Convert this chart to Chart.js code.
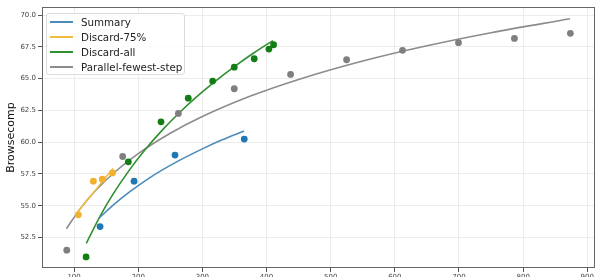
<!DOCTYPE html>
<html lang="en">
<head>
  <meta charset="utf-8">
  <title>Browsecomp scaling</title>
  <style type="text/css">
    /* page is exactly the screenshot size, chart runs a little past the bottom */
    html, body {
      margin: 0;
      padding: 0;
      background: #fff;
      overflow: hidden;
    }
    .wrap {
      position: relative;
      width: 600px;
      height: 277px;
      overflow: hidden;
    }
    .chart {
      position: absolute;
      left: 0;
      top: 0;
      width: 600px;
      height: 290px;
    }
    .legend {
      position: absolute;
      left: 46px;
      top: 13px;
      width: 139px;
      height: 62px;
      border: 1px solid #dcdcdc;
      border-radius: 3px;
      background: rgba(255, 255, 255, 0.85);
      font-family: "DejaVu Sans", sans-serif;
      font-size: 10.3px;
      color: #222;
      box-sizing: border-box;
    }
    .legend .row {
      position: absolute;
      left: 0;
      height: 14px;
      line-height: 14px;
      white-space: nowrap;
    }
    .legend .swatch {
      position: absolute;
      left: 3px;
      top: 6px;
      width: 23px;
      height: 2px;
    }
    .legend .label {
      position: absolute;
      left: 34px;
      top: 0;
    }
  </style>
</head>
<body>
  <div class="wrap">
    <div class="chart">
      <canvas id="scaleChart"></canvas>
    </div>
    <!-- legend sits inside the plot, top left -->
    <div class="legend" id="legend"></div>
  </div>

  <script src="https://cdn.jsdelivr.net/npm/chart.js"></script>

  <script>
    // ---- data ----
    const seriesNames = ["Summary", "Discard-75%", "Discard-all", "Parallel-fewest-step"];

    // Summary
    const summaryX = [140.5, 193.5, 257.3, 365.3];
    const summaryY = [53.36, 56.93, 58.98, 60.24];
    const summaryFitX = [140, 160, 187, 220, 257, 300, 330, 365];
    const summaryFitY = [54.07, 55.0, 56.1, 57.27, 58.37, 59.47, 60.16, 60.87];

    // Discard-75%
    const d75X = [106.7, 130, 144, 159.7];
    const d75Y = [54.28, 56.93, 57.09, 57.58];
    const d75FitX = [104, 118, 133, 147, 161];
    const d75FitY = [54.4, 55.3, 56.2, 57.1, 57.93];

    // Discard-all
    const dallX = [118.7, 184.6, 235.5, 278, 316, 349.7, 380.8, 403.7, 411];
    const dallY = [50.97, 58.45, 61.6, 63.46, 64.8, 65.9, 66.56, 67.32, 67.66];
    const dallFitX = [119, 140, 160, 185, 210, 240, 267, 290, 316, 352, 380, 410];
    const dallFitY = [52.03, 54.13, 55.85, 57.72, 59.36, 61.08, 62.45, 63.52, 64.63, 66.02, 67.01, 67.99];

    // Parallel-fewest-step
    const parX = [88.6, 175.8, 262.6, 349.7, 437.5, 524.8, 612, 699.2, 786.4, 873.6];
    const parY = [51.5, 58.87, 62.26, 64.2, 65.33, 66.48, 67.22, 67.82, 68.16, 68.56];
    const parFitX = [88, 110, 135, 165, 200, 250, 300, 375, 450, 550, 650, 750, 873];
    const parFitY = [53.19, 54.79, 56.27, 57.71, 59.1, 60.7, 62.01, 63.62, 64.93, 66.38, 67.58, 68.61, 69.7];

    const xTicks = [100, 200, 300, 400, 500, 600, 700, 800, 900];
    const yTicks = [52.5, 55.0, 57.5, 60.0, 62.5, 65.0, 67.5, 70.0];

    // ---- styles ----
    const pointColors = ["#1f77b4", "#f2b12e", "#127d12", "#7f7f7f"];
    const lineColors = ["#4b8cba", "#f0bb45", "#2f8f2f", "#8c8c8c"];

    function zip(xs, ys) {
      return xs.map((x, i) => ({ x: x, y: ys[i] }));
    }

    const pointSets = [zip(summaryX, summaryY), zip(d75X, d75Y), zip(dallX, dallY), zip(parX, parY)];
    const fitSets = [zip(summaryFitX, summaryFitY), zip(d75FitX, d75FitY), zip(dallFitX, dallFitY), zip(parFitX, parFitY)];

    const datasets = [];
    fitSets.forEach((d, i) => {
      datasets.push({
        label: seriesNames[i],
        data: d,
        showLine: true,
        borderColor: lineColors[i],
        borderWidth: 1.6,
        pointRadius: 0,
        cubicInterpolationMode: "monotone",
        order: 2,
      });
    });
    pointSets.forEach((d, i) => {
      datasets.push({
        label: seriesNames[i] + " points",
        data: d,
        showLine: false,
        backgroundColor: pointColors[i],
        borderColor: pointColors[i],
        borderWidth: 0,
        pointRadius: 3.4,
        order: 1,
      });
    });

    // build the legend (lines only)
    const legend = document.getElementById("legend");
    seriesNames.forEach((name, i) => {
      const row = document.createElement("div");
      row.className = "row";
      row.style.top = (1 + i * 15) + "px";
      row.innerHTML = '<span class="swatch" style="background:' + lineColors[i] + '"></span>' +
        '<span class="label">' + name + '</span>';
      legend.appendChild(row);
    });

    // four-sided frame like matplotlib spines
    const framePlugin = {
      id: "frame",
      afterDatasetsDraw(chart) {
        const a = chart.chartArea;
        const ctx = chart.ctx;
        ctx.save();
        ctx.strokeStyle = "#666";
        ctx.lineWidth = 1;
        ctx.strokeRect(Math.round(a.left) + 0.5, Math.round(a.top) + 0.5,
          Math.round(a.right - a.left) - 1, Math.round(a.bottom - a.top) - 1);
        ctx.restore();
      },
    };

    const tickFont = { family: "DejaVu Sans", size: 7 };

    new Chart(document.getElementById("scaleChart").getContext("2d"), {
      type: "scatter",
      data: { datasets: datasets },
      plugins: [framePlugin],
      options: {
        responsive: true,
        maintainAspectRatio: false,
        animation: false,
        layout: { padding: { top: 7, right: 5, left: 0, bottom: 0 } },
        plugins: {
          legend: { display: false },
          tooltip: { enabled: false },
        },
        scales: {
          x: {
            type: "linear",
            min: 50,
            max: 912,
            afterBuildTicks(scale) {
              scale.ticks = xTicks.map(v => ({ value: v }));
            },
            afterFit(scale) {
              scale.height = 22;
            },
            grid: { color: "#ececec", tickColor: "#555", tickLength: 4 },
            border: { display: false },
            ticks: { font: tickFont, color: "#444", padding: 1, maxRotation: 0 },
          },
          y: {
            type: "linear",
            min: 50.1,
            max: 70.63,
            afterBuildTicks(scale) {
              scale.ticks = yTicks.map(v => ({ value: v }));
            },
            afterFit(scale) {
              scale.width = 42;
            },
            grid: { color: "#ececec", tickColor: "#555", tickLength: 4 },
            border: { display: false },
            ticks: {
              font: tickFont,
              color: "#444",
              padding: 2,
              callback: v => v.toFixed(1),
            },
            title: {
              display: true,
              text: "Browsecomp",
              font: { family: "DejaVu Sans", size: 11 },
              color: "#111",
              padding: { top: 5, bottom: 0 },
            },
          },
        },
      },
    });
  </script>
</body>
</html>
